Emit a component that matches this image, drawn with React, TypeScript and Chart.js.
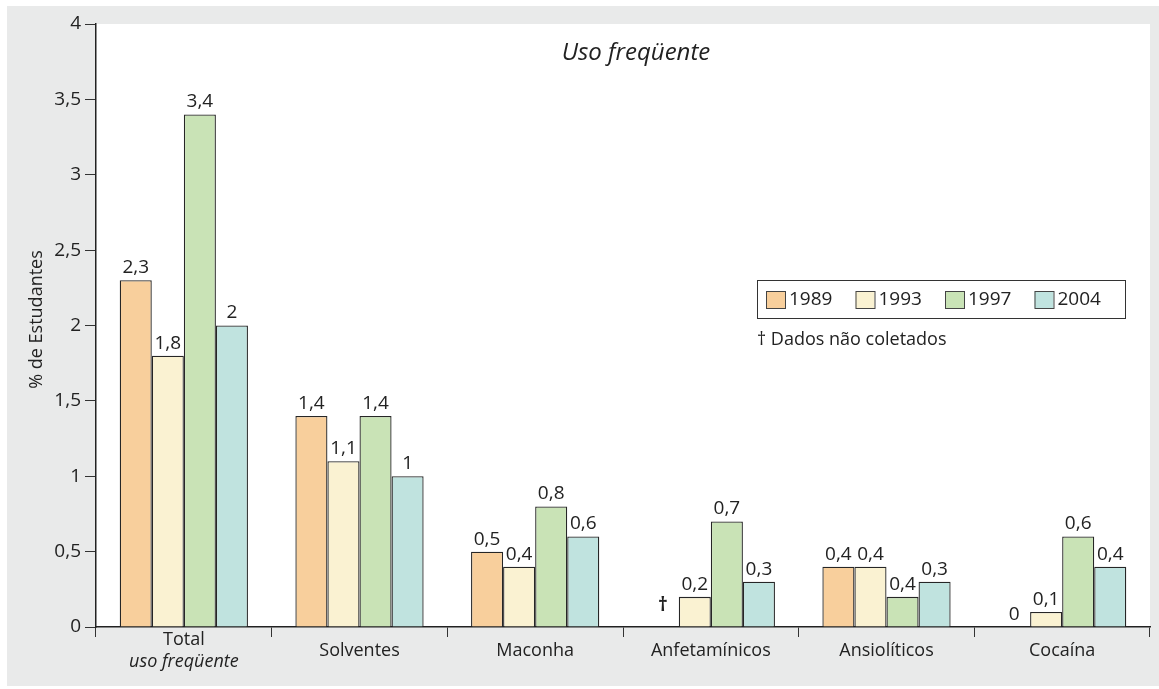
import React, { useEffect, useRef } from "react";
import { Chart, registerables } from "chart.js";

Chart.register(...registerables);

const categories = ["Total|uso freqüente", "Solventes", "Maconha", "Anfetamínicos", "Ansiolíticos", "Cocaína"];
const years = ["1989", "1993", "1997", "2004"];
const values1989: (number | null)[] = [2.3, 1.4, 0.5, null, 0.4, 0];
const values1993: (number | null)[] = [1.8, 1.1, 0.4, 0.2, 0.4, 0.1];
const values1997: (number | null)[] = [3.4, 1.4, 0.8, 0.7, 0.2, 0.6];
const values2004: (number | null)[] = [2.0, 1.0, 0.6, 0.3, 0.3, 0.4];
const labels1989 = ["2,3", "1,4", "0,5", "†", "0,4", "0"];
const labels1993 = ["1,8", "1,1", "0,4", "0,2", "0,4", "0,1"];
const labels1997 = ["3,4", "1,4", "0,8", "0,7", "0,4", "0,6"];
const labels2004 = ["2", "1", "0,6", "0,3", "0,3", "0,4"];
const colors = ["#f8cf9c", "#faf2d2", "#c9e3b6", "#c0e3df"];
const title = "Uso freqüente";
const yTitle = "% de Estudantes";
const footnote = "† Dados não coletados";

const FONT = "'Open Sans', 'Noto Sans', sans-serif";
const INK = "#222";

export default function App() {
  const ref = useRef<HTMLCanvasElement>(null);
  useEffect(() => {
    const allVals = [values1989, values1993, values1997, values2004];
    const allLabels = [labels1989, labels1993, labels1997, labels2004];
    const deco = {
      id: "deco",
      beforeDraw(chart: any) {
        const { ctx, chartArea: a } = chart;
        ctx.save();
        ctx.fillStyle = "#fff";
        ctx.fillRect(0, 0, chart.width, chart.height);
        ctx.fillStyle = "#e9eaea";
        ctx.fillRect(7, 6, chart.width - 7, chart.height - 9);
        ctx.fillStyle = "#fff";
        ctx.fillRect(a.left, a.top, a.right - a.left, a.bottom - a.top);
        ctx.restore();
      },
      afterDatasetsDraw(chart: any) {
        const { ctx } = chart;
        ctx.save();
        ctx.font = `19px ${FONT}`;
        ctx.fillStyle = INK;
        ctx.textAlign = "center";
        ctx.textBaseline = "bottom";
        chart.data.datasets.forEach((ds: any, di: number) => {
          const meta = chart.getDatasetMeta(di);
          meta.data.forEach((bar: any, i: number) => {
            const txt = allLabels[di][i];
            const v = allVals[di][i];
            let x = bar.x;
            let y: number;
            if (v === null || v === undefined) {
              x = chart.scales.x.getPixelForValue(i) - 32 * (1.5 - di);
              ctx.font = `bold 19px ${FONT}`;
              y = chart.scales.y.getPixelForValue(0) - 12;
              ctx.fillText(txt, x, y);
              ctx.font = `19px ${FONT}`;
              return;
            } else {
              y = chart.scales.y.getPixelForValue(v) - 3;
            }
            ctx.fillText(txt, x, y);
          });
        });
        ctx.restore();
      },
      afterDraw(chart: any) {
        const { ctx, chartArea: a } = chart;
        const xs = chart.scales.x;
        ctx.save();
        ctx.fillStyle = INK;
        // title
        ctx.font = `italic 24px ${FONT}`;
        ctx.textAlign = "center";
        ctx.textBaseline = "middle";
        ctx.fillText(title, 636, 53);
        // category labels
        categories.forEach((c, i) => {
          const x = xs.getPixelForValue(i);
          const parts = c.split("|");
          if (parts.length === 1) {
            ctx.font = `18px ${FONT}`;
            ctx.fillText(parts[0], x, a.bottom + 24);
          } else {
            ctx.font = `18px ${FONT}`;
            ctx.fillText(parts[0], x, a.bottom + 13);
            ctx.font = `italic 18px ${FONT}`;
            ctx.fillText(parts[1], x, a.bottom + 35);
          }
        });
        // y title
        ctx.save();
        ctx.translate(37, (a.top + a.bottom) / 2 - 6);
        ctx.rotate(-Math.PI / 2);
        ctx.font = `18px ${FONT}`;
        ctx.fillText(yTitle, 0, 0);
        ctx.restore();
        // legend
        const lx = 757, ly = 280, lw = 368, lh = 38;
        ctx.strokeStyle = "#333";
        ctx.lineWidth = 1;
        ctx.strokeRect(lx + 0.5, ly + 0.5, lw, lh);
        ctx.font = `19px ${FONT}`;
        ctx.textAlign = "left";
        years.forEach((yr, i) => {
          const sx = 766 + i * 89.5;
          ctx.fillStyle = colors[i];
          ctx.fillRect(sx, 291, 19, 17);
          ctx.strokeStyle = "#444";
          ctx.strokeRect(sx + 0.5, 291.5, 19, 17);
          ctx.fillStyle = INK;
          ctx.fillText(yr, sx + 23, 300);
        });
        ctx.font = `18px ${FONT}`;
        ctx.fillText(footnote, 757, 340);
        ctx.restore();
      },
    };
    const chart = new Chart(ref.current!, {
      type: "bar",
      data: {
        labels: categories,
        datasets: years.map((yr, i) => ({
          label: yr,
          data: allVals[i] as any,
          backgroundColor: colors[i],
          borderColor: "#262626",
          borderWidth: 1.3,
          categoryPercentage: 0.73,
          barPercentage: 1,
        })),
      },
      options: {
        animation: false,
        responsive: false,
        maintainAspectRatio: false,
        layout: { padding: { top: 24, right: 9, left: 0, bottom: 0 } },
        plugins: { legend: { display: false }, tooltip: { enabled: false }, title: { display: false } },
        scales: {
          x: {
            grid: { drawOnChartArea: false, drawTicks: true, tickLength: 10, color: "#333", lineWidth: 1 },
            border: { display: true, color: "#222", width: 1.5 },
            ticks: { display: false },
            afterFit: (s: any) => { s.height = 62; },
          },
          y: {
            min: 0,
            max: 4,
            grid: { drawOnChartArea: false, drawTicks: true, tickLength: 11, color: "#333", lineWidth: 1 },
            border: { display: true, color: "#222", width: 1.5 },
            ticks: {
              stepSize: 0.5,
              color: INK,
              padding: 4,
              font: { family: FONT, size: 19 },
              callback: (v: any) => String(v).replace(".", ","),
            },
            afterFit: (s: any) => { s.width = 96; },
          },
        },
      },
      plugins: [deco],
    });
    return () => chart.destroy();
  }, []);
  return (
    <div style={{ position: "fixed", left: 0, top: 0, width: 1159, height: 689 }}>
      <canvas ref={ref} width={1159} height={689} style={{ width: 1159, height: 689, display: "block" }} />
    </div>
  );
}
